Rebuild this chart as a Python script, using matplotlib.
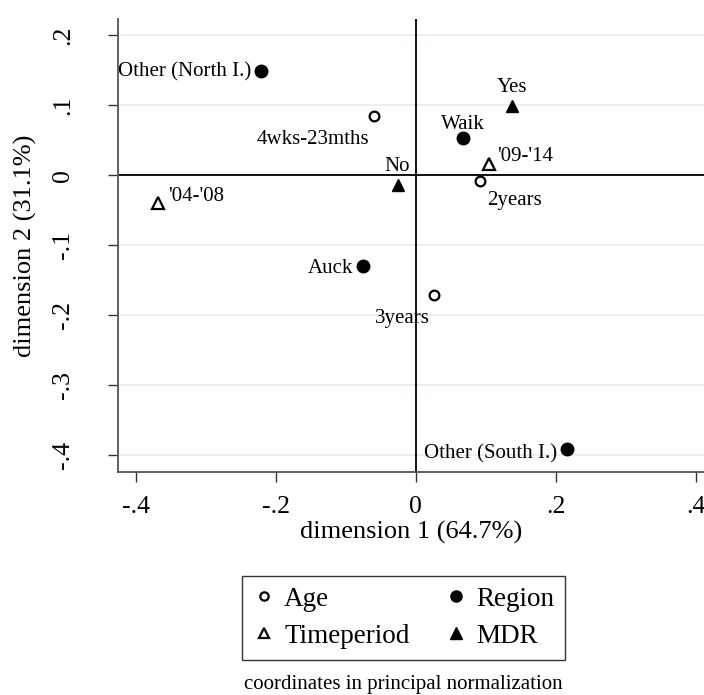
import matplotlib
matplotlib.use("Agg")
import matplotlib.pyplot as plt
from matplotlib.lines import Line2D

plt.rcParams["font.family"] = ["Liberation Serif", "DejaVu Serif"]

# correspondence analysis coordinates (principal normalization)
labels = ["Other (North I.)", "4wks-23mths", "Yes", "Waik", "'09-'14", "No",
          "2years", "'04-'08", "Auck", "3years", "Other (South I.)"]
groups = ["Region", "Age", "MDR", "Region", "Timeperiod", "MDR",
          "Age", "Timeperiod", "Region", "Age", "Region"]
dim1 = [-0.221, -0.060, 0.137, 0.067, 0.104, -0.026,
        0.092, -0.368, -0.076, 0.026, 0.216]
dim2 = [0.149, 0.085, 0.098, 0.053, 0.016, -0.014,
        -0.008, -0.040, -0.130, -0.171, -0.391]
# label offsets in points (dx, dy) and alignment
label_pos = {
    "Other (North I.)": ((-7, -1), "right"),
    "4wks-23mths": ((-3, -17), "right"),
    "Yes": ((0, 14), "center"),
    "Waik": ((0, 10), "center"),
    "'09-'14": ((6, 5), "left"),
    "No": ((0, 13), "center"),
    "2years": ((5, -14.5), "left"),
    "'04-'08": ((7, 4.5), "left"),
    "Auck": ((-7, -2), "right"),
    "3years": ((-23, -17), "center"),
    "Other (South I.)": ((-7, -3.5), "right"),
}

x_ticks = [-0.4, -0.2, 0, 0.2, 0.4]
x_tick_labels = ["-.4", "-.2", "0", ".2", ".4"]
y_ticks = [-0.4, -0.3, -0.2, -0.1, 0, 0.1, 0.2]
y_tick_labels = ["-.4", "-.3", "-.2", "-.1", "0", ".1", ".2"]

styles = {
    "Age": dict(marker="o", mfc="white", mec="black", ms=7, mew=1.6),
    "Region": dict(marker="o", mfc="black", mec="black", ms=9, mew=1),
    "Timeperiod": dict(marker="^", mfc="white", mec="black", ms=8, mew=1.6),
    "MDR": dict(marker="^", mfc="black", mec="black", ms=9, mew=1),
}

fig = plt.figure(figsize=(7.04, 6.95), dpi=100)
ax = fig.add_axes([0.1683, 0.3209, 0.8317, 0.6518])

for yt in y_ticks:
    ax.axhline(yt, color="#e6eff1", lw=1.3, zorder=0)
ax.axhline(0, color="black", lw=1.3, zorder=1)
ax.axvline(0, color="black", lw=1.3, zorder=1)

for lab, g, x, y in zip(labels, groups, dim1, dim2):
    ax.plot([x], [y], ls="none", zorder=3, **styles[g])
    (dx, dy), ha = label_pos[lab]
    ax.annotate(lab, (x, y), xytext=(dx, dy), textcoords="offset points",
                ha=ha, va="center", fontsize=15, zorder=4)

ax.set_xlim(-0.4247, 0.4117)
ax.set_ylim(-0.424, 0.223)
ax.set_xticks(x_ticks)
ax.set_xticklabels(x_tick_labels, fontsize=18.5)
ax.set_yticks(y_ticks)
ax.set_yticklabels(y_tick_labels, fontsize=18.5, rotation=90, va="center")
ax.tick_params(direction="out", length=7, width=1, color="#333333")
ax.tick_params(axis="x", pad=10.5)
ax.tick_params(axis="y", pad=25)
for s in ["top", "right"]:
    ax.spines[s].set_visible(False)
for s in ["left", "bottom"]:
    ax.spines[s].set_color("#555555")
    ax.spines[s].set_linewidth(1.3)
ax.set_xlabel("dimension 1 (64.7%)", fontsize=19, labelpad=2)
ax.set_ylabel("dimension 2 (31.1%)", fontsize=19, labelpad=11)

handles = [Line2D([], [], ls="none", label=g, **{**styles[g], "ms": styles[g]["ms"] - 1})
           for g in ["Age", "Timeperiod", "Region", "MDR"]]
leg = fig.legend(handles=handles, ncol=2, loc="center",
                 bbox_to_anchor=(0.5735, 0.111), fontsize=19.5,
                 frameon=True, fancybox=False, edgecolor="black",
                 handlelength=0.8, handletextpad=0.35, columnspacing=1.33,
                 borderpad=0.4, labelspacing=0.45, borderaxespad=0)
leg.get_frame().set_linewidth(1.0)

fig.text(0.5735, 1 - 684.5 / 695, "coordinates in principal normalization",
         ha="center", va="center", fontsize=15)

fig.savefig("out.png", dpi=100)
